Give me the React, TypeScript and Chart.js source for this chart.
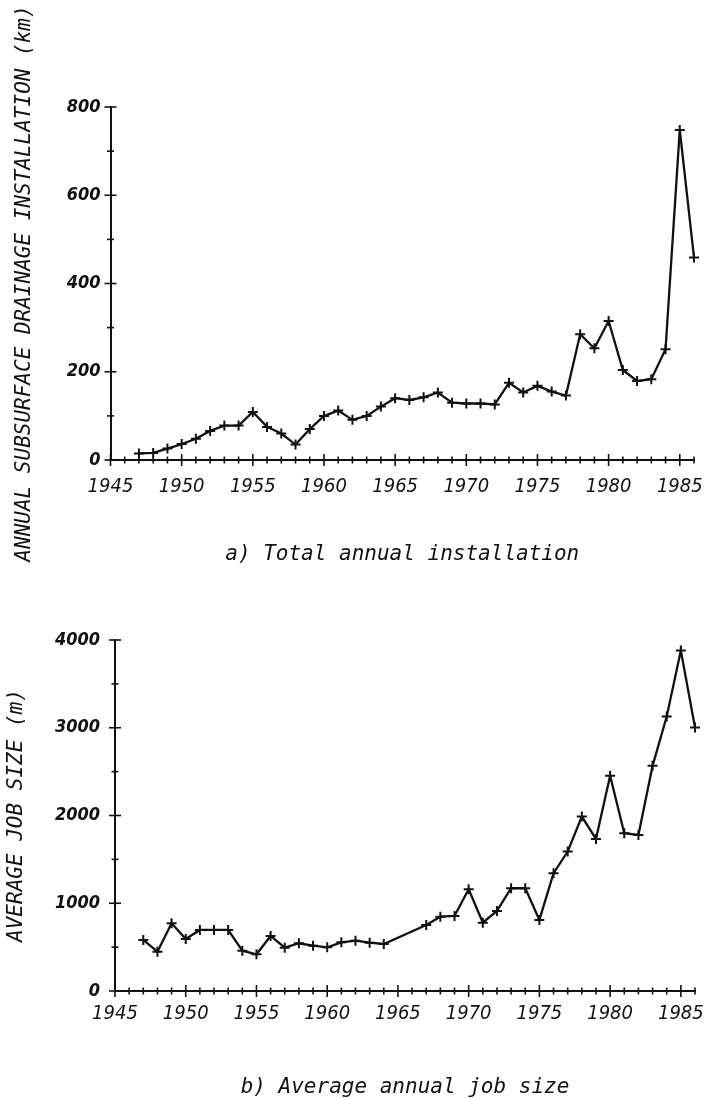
import React, { useEffect, useRef } from "react";
import { Chart, registerables } from "chart.js";

Chart.register(...registerables);

// ---- data ----
const years: number[] = [
  1947, 1948, 1949, 1950, 1951, 1952, 1953, 1954, 1955, 1956,
  1957, 1958, 1959, 1960, 1961, 1962, 1963, 1964, 1965, 1966,
  1967, 1968, 1969, 1970, 1971, 1972, 1973, 1974, 1975, 1976,
  1977, 1978, 1979, 1980, 1981, 1982, 1983, 1984, 1985, 1986,
];

// a) Total annual installation (km)
const installationKm: number[] = [
  15, 16, 26, 36, 48, 66, 78, 78, 109, 75,
  60, 35, 70, 100, 112, 91, 100, 121, 140, 136,
  142, 153, 130, 128, 128, 126, 175, 153, 168, 155,
  146, 285, 253, 315, 204, 179, 183, 251, 748, 459,
];

// b) Average annual job size (m); no values for 1965-1966
const jobSizeM: (number | null)[] = [
  582, 448, 772, 593, 696, 696, 696, 460, 418, 627,
  494, 544, 517, 498, 555, 574, 551, 536, null, null,
  753, 847, 855, 1160, 779, 912, 1171, 1171, 810, 1342,
  1589, 1988, 1733, 2452, 1798, 1779, 2566, 3128, 3880, 3002,
];

const xMin = 1945;
const xMax = 1986;

const titleA = "a) Total annual installation";
const titleB = "b) Average annual job size";
const yTitleA = "ANNUAL SUBSURFACE DRAINAGE INSTALLATION (km)";
const yTitleB = "AVERAGE JOB SIZE (m)";

const INK = "#111";
const MONO = "'DejaVu Sans Mono', monospace";
const COND = "'DejaVu Sans Condensed', 'DejaVu Sans', sans-serif";

const crossTicks = {
  id: "crossTicks",
  afterDraw(chart: any, _args: any, opts: any) {
    const { ctx, chartArea } = chart;
    const xs = chart.scales.x;
    const ys = chart.scales.y;
    ctx.save();
    ctx.strokeStyle = INK;
    ctx.lineWidth = 1.6;
    const b = chartArea.bottom;
    const l = chartArea.left;
    for (let v = xs.min; v <= xs.max; v += 1) {
      const px = xs.getPixelForValue(v);
      const h = v % 5 === 0 ? 6 : 3.5;
      ctx.beginPath();
      ctx.moveTo(px, b - h);
      ctx.lineTo(px, b + h);
      ctx.stroke();
    }
    for (let v = ys.min; v <= ys.max + 1e-9; v += opts.minor) {
      const py = ys.getPixelForValue(v);
      const w = Math.abs(v % opts.major) < 1e-9 ? 6 : 3.5;
      ctx.beginPath();
      ctx.moveTo(l - w, py);
      ctx.lineTo(l + w, py);
      ctx.stroke();
    }
    ctx.restore();
  },
};

function makeConfig(
  values: (number | null)[],
  opt: {
    yMax: number;
    yStep: number;
    yMinor: number;
    yWidth: number;
    xHeight: number;
    padTop: number;
    padRight: number;
    xTickPad: number;
    yTickPad: number;
    yTitle: string;
    yTitlePad: number;
    xTitle: string;
    xTitlePadBottom: number;
  }
): any {
  return {
    type: "line",
    data: {
      datasets: [
        {
          data: years.map((yr, i) => ({ x: yr, y: values[i] })),
          borderColor: INK,
          borderWidth: 2.3,
          pointStyle: "cross",
          pointRadius: 5,
          pointBorderWidth: 2,
          pointBorderColor: INK,
          pointBackgroundColor: INK,
          tension: 0,
          spanGaps: true,
          fill: false,
          clip: false,
        },
      ],
    },
    options: {
      responsive: false,
      animation: false,
      events: [],
      layout: { padding: { top: opt.padTop, right: opt.padRight, left: 0, bottom: 0 } },
      plugins: {
        legend: { display: false },
        tooltip: { enabled: false },
        crossTicks: { minor: opt.yMinor, major: opt.yStep },
      },
      scales: {
        x: {
          type: "linear",
          min: xMin,
          max: xMax,
          grid: { display: false, drawTicks: false },
          border: { display: true, color: INK, width: 2 },
          ticks: {
            stepSize: 5,
            includeBounds: false,
            autoSkip: false,
            maxRotation: 0,
            padding: opt.xTickPad,
            color: INK,
            font: { family: COND, size: 20, style: "italic" },
            callback: (v: any) => String(v),
          },
          title: {
            display: true,
            text: opt.xTitle,
            color: INK,
            font: { family: MONO, size: 21, style: "italic", lineHeight: 1 },
            padding: { top: 0, bottom: opt.xTitlePadBottom },
          },
          afterFit: (s: any) => {
            s.height = opt.xHeight;
            s.paddingLeft = 0;
            s.paddingRight = 0;
          },
        },
        y: {
          type: "linear",
          min: 0,
          max: opt.yMax,
          grid: { display: false, drawTicks: false },
          border: { display: true, color: INK, width: 2 },
          ticks: {
            stepSize: opt.yStep,
            padding: opt.yTickPad,
            color: INK,
            font: { family: COND, size: 18, style: "italic", weight: "bold" },
            callback: (v: any) => String(v),
          },
          title: {
            display: true,
            text: opt.yTitle,
            color: INK,
            font: { family: MONO, size: 21, style: "italic", lineHeight: 1 },
            padding: { top: opt.yTitlePad, bottom: 0 },
          },
          afterFit: (s: any) => {
            s.width = opt.yWidth;
            s.paddingTop = 0;
            s.paddingBottom = 0;
          },
        },
      },
    },
    plugins: [crossTicks],
  };
}

function LineChart(props: { w: number; h: number; config: any }) {
  const ref = useRef<HTMLCanvasElement | null>(null);
  useEffect(() => {
    if (!ref.current) return;
    const chart = new Chart(ref.current, props.config);
    return () => chart.destroy();
  }, []);
  return (
    <canvas
      ref={ref}
      width={props.w}
      height={props.h}
      style={{ display: "block", width: props.w, height: props.h }}
    />
  );
}

export default function App() {
  useEffect(() => {
    document.body.style.margin = "0";
    document.body.style.background = "#fff";
  }, []);

  const cfgA = makeConfig(installationKm, {
    yMax: 800,
    yStep: 200,
    yMinor: 100,
    yWidth: 110.5,
    xHeight: 140,
    padTop: 107,
    padRight: 17,
    xTickPad: 15,
    yTickPad: 10,
    yTitle: yTitleA,
    yTitlePad: 14.5,
    xTitle: titleA,
    xTitlePadBottom: 34.5,
  });

  const cfgB = makeConfig(jobSizeM, {
    yMax: 4000,
    yStep: 1000,
    yMinor: 500,
    yWidth: 115,
    xHeight: 107,
    padTop: 40,
    padRight: 16,
    xTickPad: 11,
    yTickPad: 15,
    yTitle: yTitleB,
    yTitlePad: 6.5,
    xTitle: titleB,
    xTitlePadBottom: 0,
  });

  return (
    <div style={{ width: 711, background: "#fff" }}>
      <LineChart w={711} h={600} config={cfgA} />
      <LineChart w={711} h={498} config={cfgB} />
    </div>
  );
}
